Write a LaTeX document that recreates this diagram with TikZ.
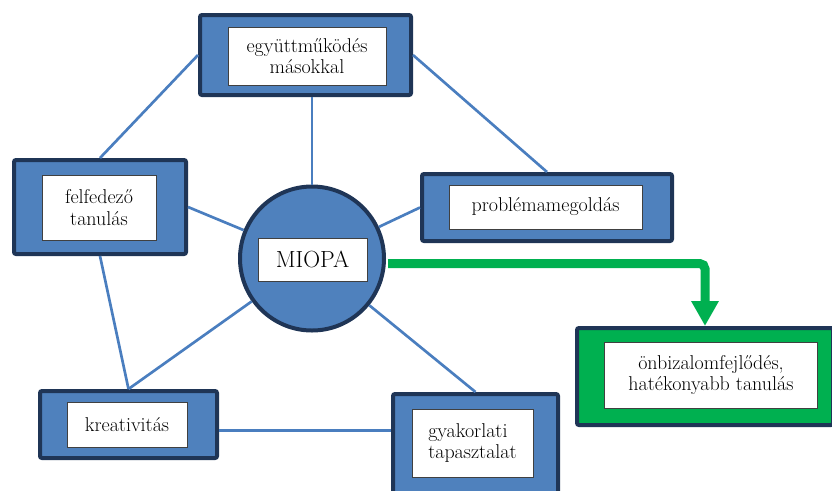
\documentclass[tikz,border=0pt]{standalone}
\usepackage{xcolor}
\usetikzlibrary{arrows.meta,positioning}

\definecolor{boxblue}{HTML}{4F81BD}
\definecolor{navy}{HTML}{1F3556}
\definecolor{linkblue}{HTML}{4A7EBF}
\definecolor{okgreen}{HTML}{00B050}

\begin{document}
\begin{tikzpicture}[
    x=0.75pt, y=-0.75pt,
    font=\rmfamily\fontsize{15}{16}\selectfont,
    topic/.style 2 args={
        rectangle,
        rounded corners=1.5pt,
        draw=navy,
        line width=3pt,
        fill=boxblue,
        inner sep=0pt,
        minimum width=#1*0.75pt,
        minimum height=#2*0.75pt
    },
    textbox/.style 2 args={
        rectangle,
        draw=black!75,
        line width=0.7pt,
        fill=white,
        align=center,
        inner sep=0pt,
        minimum width=#1*0.75pt,
        minimum height=#2*0.75pt
    },
    hub/.style={
        circle,
        draw=navy,
        line width=3pt,
        fill=boxblue,
        inner sep=0pt,
        minimum size=144*0.75pt
    },
    link/.style={draw=linkblue, line width=2pt},
    flowarrow/.style={draw=okgreen, line width=6.75pt, rounded corners=4pt,
        -{Triangle[length=18.75pt, width=19.5pt]}}
]
\useasboundingbox (0,0) rectangle (832,490);

% outer boxes
\node[topic={211}{80}] (egyutt) at (305.5,55) {};
\node[topic={172}{94}] (felfedezo) at (100,207) {};
\node[topic={250}{67}] (problema) at (547,207.5) {};
\node[hub] (miopa) at (312,258.5) {};
\node[topic={177}{67}] (kreativ) at (128.5,424.5) {};
\node[topic={165}{126}] (gyakorlat) at (475.5,457) {};
\node[topic={256}{97}, fill=okgreen] (eredmeny) at (705,376.5) {};

% white text boxes
\node[textbox={158}{58}] (egyutt-txt) at (307,56) {együttműködés\\másokkal};
\node[textbox={114}{65}] (felfedezo-txt) at (99,207.5) {felfedező\\tanulás};
\node[textbox={193}{44}] (problema-txt) at (545.5,207) {problémamegoldás};
\node[textbox={109}{43}, font=\rmfamily\fontsize{17.5}{19}\selectfont] (miopa-txt) at (312.5,259.5) {MIOPA};
\node[textbox={120}{45}] (kreativ-txt) at (127,424.5) {kreativitás};
\node[textbox={121}{68}, align=left] (gyakorlat-txt) at (472.5,443) {gyakorlati\\tapasztalat};
\node[textbox={213}{66}] (eredmeny-txt) at (711,375) {önbizalomfejlődés,\\hatékonyabb tanulás};

% connectors
\draw[link] (egyutt.west) -- (felfedezo.north);
\draw[link] (egyutt.east) -- (problema.north);
\draw[link] (egyutt.south -| miopa.north) -- (miopa.north);
\draw[link] (felfedezo.east) -- (miopa);
\draw[link] (miopa) -- (problema.west);
\draw[link] (felfedezo.south) -- (kreativ.north);
\draw[link] (miopa) -- (kreativ.north);
\draw[link] (miopa) -- (gyakorlat.north);
\draw[link] ([yshift=-4.5pt]kreativ.east) -- ([yshift=-4.5pt]kreativ.east -| gyakorlat.west);

\draw[flowarrow] ([xshift=1.5pt, yshift=-3.75pt]miopa.east) -| (eredmeny.north);

\end{tikzpicture}
\end{document}
